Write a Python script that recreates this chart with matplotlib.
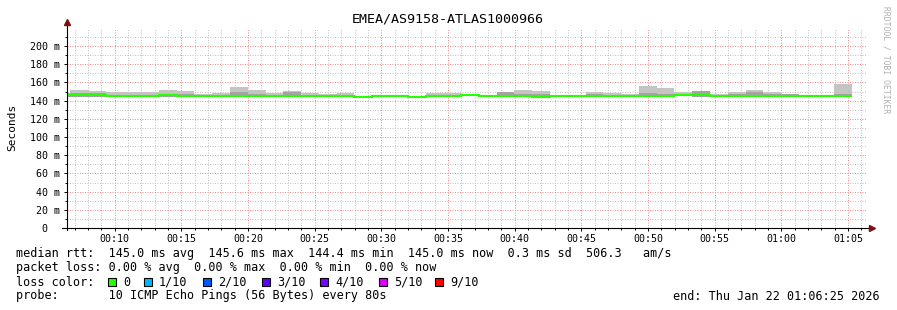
import numpy as np
import matplotlib
matplotlib.use("Agg")
import matplotlib.pyplot as plt
from matplotlib.patches import Rectangle

plt.rcParams['font.family'] = ['DejaVu Sans Mono']

# Data: one value per 80 s step (ms)
title = "EMEA/AS9158-ATLAS1000966"
step_start_min = 5 + 18.5 / 60   # first rrd step starts 00:05:18.5
step_min = 80 / 60
median = [146.0, 146.3, 146.0, 145.0, 145.0, 145.0, 146.0, 145.5, 145.0, 145.0,
          145.0, 145.0, 145.0, 145.0, 145.0, 145.0, 145.0, 144.5, 145.0, 145.0,
          144.5, 145.0, 145.0, 146.3, 145.5, 145.0, 145.0, 144.5, 145.0, 145.0,
          145.0, 145.0, 145.0, 145.0, 145.0, 146.0, 146.0, 145.5, 145.0, 145.0,
          145.0, 145.0, 145.0, 145.0, 145.0]
smoke_max = [148.0, 151.5, 150.5, 149.0, 149.0, 149.0, 151.5, 150.5, 147.5, 148.5,
             155.0, 151.5, 148.0, 150.5, 148.5, 147.5, 148.5, 145.5, 146.0, 146.0,
             145.5, 148.0, 148.0, 147.0, 146.5, 150.0, 151.5, 150.5, 146.0, 145.5,
             150.0, 148.5, 147.5, 156.0, 154.0, 150.0, 150.5, 147.5, 150.0, 151.5,
             150.0, 147.0, 146.0, 145.5, 158.0]
smoke_upper = [147.0, 148.0, 148.0, 146.5, 146.5, 146.5, 147.0, 147.0, 146.0, 146.5,
               150.0, 147.5, 146.5, 150.0, 146.5, 146.0, 146.5, 145.0, 145.5, 145.5,
               145.0, 146.5, 146.5, 146.5, 146.0, 150.0, 147.5, 147.0, 145.5, 145.0,
               147.0, 146.5, 146.0, 148.0, 147.5, 147.5, 150.5, 146.5, 147.0, 150.0,
               147.5, 147.0, 145.5, 145.0, 147.5]
smoke_min = [144.5, 144.5, 144.5, 144.0, 144.0, 144.5, 144.5, 144.5, 144.5, 144.5,
             144.5, 144.5, 144.5, 144.5, 144.5, 144.5, 144.5, 143.8, 143.5, 144.5,
             143.8, 143.5, 144.5, 145.5, 144.5, 144.5, 144.5, 143.8, 143.5, 144.5,
             144.5, 144.5, 144.5, 144.5, 144.5, 145.0, 144.5, 144.5, 144.5, 144.5,
             144.5, 143.5, 143.8, 144.5, 144.5]
x_labels = ["00:10", "00:15", "00:20", "00:25", "00:30", "00:35",
            "00:40", "00:45", "00:50", "00:55", "01:00", "01:05"]
x_start, x_end = 6 + 25 / 60, 66 + 25 / 60
y_ticks = [0, 20, 40, 60, 80, 100, 120, 140, 160, 180, 200]

loss_labels = ["0", "1/10", "2/10", "3/10", "4/10", "5/10", "9/10"]
loss_colors = ["#26ff00", "#00b8ff", "#0059ff", "#5e00ff", "#7e00ff", "#dd00ff", "#ff0000"]

W, H = 897, 310
fig = plt.figure(figsize=(W / 100, H / 100), dpi=100)
fig.patch.set_facecolor("white")

def fx(px):
    return px / W

def fy(py):
    return 1 - py / H

ax = fig.add_axes([fx(67), fy(228), 800 / W, 200.2 / H])
ax.set_xlim(x_start, x_end)
ax.set_ylim(0, 220)

edges = step_start_min + step_min * np.arange(len(median) + 1)
ax.stairs(smoke_max, edges, baseline=smoke_min, fill=True, color="#c4c4c4", zorder=2)
ax.stairs(smoke_upper, edges, baseline=smoke_min, fill=True, color="#a4a4a4", zorder=2)
ax.stairs(median, edges, color="#26ff00", linewidth=1.5, baseline=None, zorder=3)

# grid
major_x = [int(s[:2]) * 60 + int(s[3:]) for s in x_labels]
ax.set_xticks(major_x)
ax.set_xticklabels(x_labels, fontsize=7.2)
ax.set_xticks(np.arange(7, 67), minor=True)
ax.set_yticks(y_ticks)
ax.set_yticklabels([f"{v} m" if v else "0  " for v in y_ticks], fontsize=7.2)
ax.set_yticks(np.arange(10, 220, 20), minor=True)
ax.grid(True, which="minor", color="#c4c4c4", linestyle=(0, (1, 1.5)), linewidth=0.72, zorder=0)
ax.grid(True, which="major", color="#ee9090", linestyle=(0, (1, 1.5)), linewidth=0.72, zorder=1)
ax.tick_params(which="major", length=2.5, width=0.7, pad=2.5, direction="out")
ax.tick_params(which="minor", length=1.5, width=0.7, direction="out")
ax.tick_params(axis="x", which="major", pad=2)

for s in ["top", "right", "left", "bottom"]:
    ax.spines[s].set_visible(False)
ax.plot([0, 0], [-0.01, 1.03], transform=ax.transAxes, color="black", lw=0.8, clip_on=False, zorder=5)
ax.plot([-0.006, 1.004], [0, 0], transform=ax.transAxes, color="black", lw=0.8, clip_on=False, zorder=5)
ax.plot([0], [1.03], transform=ax.transAxes, marker="^", ms=4, color="#7f1010", clip_on=False, zorder=6)
ax.plot([1.006], [0], transform=ax.transAxes, marker=">", ms=4, color="#7f1010", clip_on=False, zorder=6)

fig.text(fx(12), fy(127), "Seconds", rotation=90, ha="center", va="center", fontsize=8)
fig.text(fx(448), fy(19), title, ha="center", va="center", fontsize=9.6)
fig.text(fx(886), fy(60), "RRDTOOL / TOBI OETIKER", rotation=-90, ha="center",
         va="center", fontsize=5.8, color="#b0b0b0")

# legend
lf = 8.5
fig.text(fx(16), fy(254),
         "median rtt:  145.0 ms avg  145.6 ms max  144.4 ms min  145.0 ms now  0.3 ms sd  506.3   am/s",
         ha="left", va="center", fontsize=lf)
fig.text(fx(16), fy(268),
         "packet loss: 0.00 % avg  0.00 % max  0.00 % min  0.00 % now",
         ha="left", va="center", fontsize=lf)
fig.text(fx(16), fy(282), "loss color:", ha="left", va="center", fontsize=lf)
sq_x = [108, 144, 203, 262, 320, 379, 435]
for x0, lab, col in zip(sq_x, loss_labels, loss_colors):
    fig.add_artist(Rectangle((fx(x0), fy(286)), 8 / W, 8 / H, transform=fig.transFigure,
                             facecolor=col, edgecolor="black", linewidth=0.8))
    fig.text(fx(x0 + 15), fy(282), lab, ha="left", va="center", fontsize=lf)
fig.text(fx(16), fy(296), "probe:       10 ICMP Echo Pings (56 Bytes) every 80s",
         ha="left", va="center", fontsize=lf)
fig.text(fx(880), fy(296), "end: Thu Jan 22 01:06:25 2026", ha="right", va="center", fontsize=lf)

fig.savefig("out.png", dpi=100)
